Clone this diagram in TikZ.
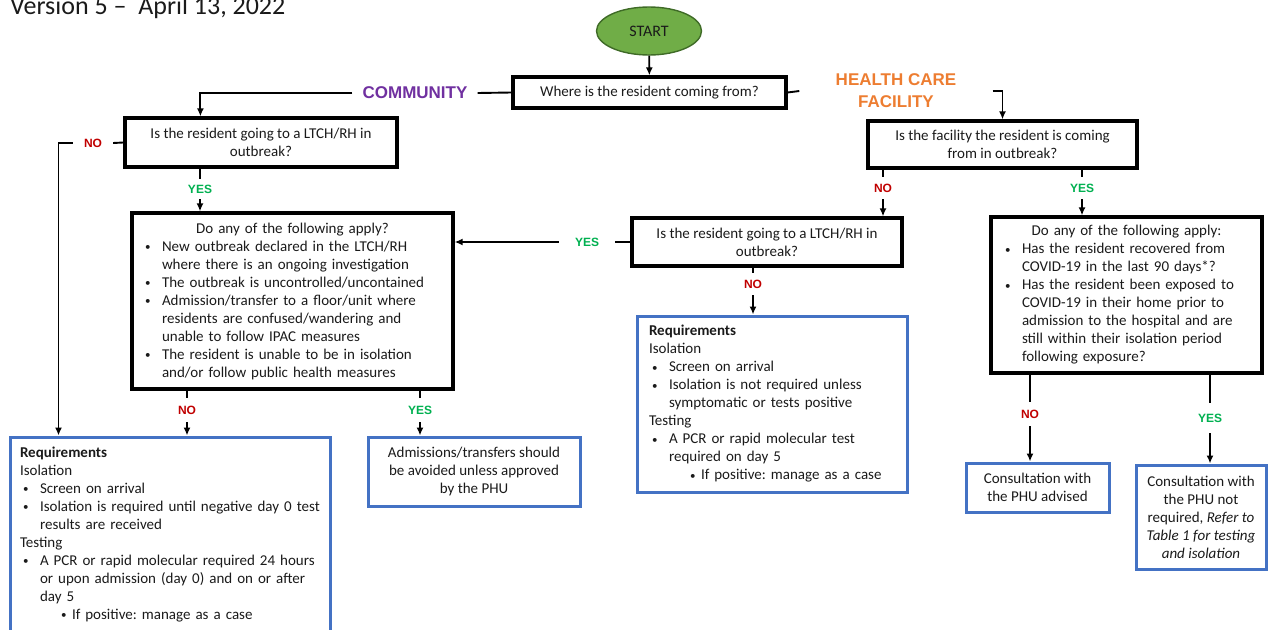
\documentclass[tikz,border=0pt]{standalone}
\usepackage{fontspec}
\setmainfont{Carlito}
\newfontfamily\labfont{Liberation Sans}
\usetikzlibrary{shapes.geometric,arrows.meta,calc}
\definecolor{bluebox}{HTML}{4472C4}
\definecolor{yesgreen}{HTML}{00B050}
\definecolor{nored}{HTML}{C00000}
\definecolor{commpurple}{HTML}{7030A0}
\definecolor{hcforange}{HTML}{ED7D31}
\definecolor{startfill}{HTML}{70AD47}
\definecolor{startdraw}{HTML}{3F6B27}
\definecolor{txt}{HTML}{1A1A1A}
\frenchspacing
\newcommand{\bodyfont}{\fontsize{15}{18}\selectfont}
\newcommand{\smallbul}{\raisebox{0.5pt}{\fontsize{11}{11}\selectfont\textbullet}}
\newcommand{\mybul}{\makebox[20pt][l]{\hspace{3pt}\smallbul}}
\newcommand{\myind}{\hspace*{20pt}}
\newcommand{\mysub}{\hspace*{41pt}\makebox[11pt][l]{\smallbul}}
\begin{document}
\begin{tikzpicture}[x=1pt,y=-1pt,
  qbox/.style={draw=black, line width=3.2pt, align=center, font=\bodyfont, text=txt, inner sep=0pt},
  bbox/.style={draw=bluebox, line width=3pt, font=\bodyfont, text=txt, inner sep=0pt},
  conn/.style={line width=1.9pt},
  arr/.style={conn, -{Latex[length=8pt,width=7pt]}},
  yeslab/.style={text=yesgreen, font=\labfont\bfseries\fontsize{12}{14}\selectfont, inner sep=0pt},
  nolab/.style={text=nored, font=\labfont\bfseries\fontsize{12}{14}\selectfont, inner sep=0pt},
  biglab/.style={font=\labfont\bfseries\fontsize{17}{22}\selectfont, inner sep=0pt, align=center}
]
\useasboundingbox (0,0) rectangle (1268,629);

% header
\node[anchor=base west, inner sep=0pt, text=txt, font=\fontsize{26}{30}\selectfont] (ver) at (10,14) {Version 5 \textendash\ \ April 13, 2022};

% start
\node[ellipse, fill=startfill, draw=startdraw, line width=1.4pt, minimum width=105pt, minimum height=48pt, inner sep=0pt, text=txt, font=\fontsize{16}{18}\selectfont] (start) at (649,31) {START};

% question boxes
\node[qbox, minimum width=273pt, minimum height=31pt] (where) at (649.5,92.5) {Where is the resident coming from?};
\node[qbox, minimum width=272pt, minimum height=49pt] (ltop) at (261,142.5) {Is the resident going to a LTCH/RH in\\outbreak?};
\node[qbox, minimum width=269pt, minimum height=47pt] (ftop) at (1002.5,144.5) {Is the facility the resident is coming\\from in outbreak?};
\node[qbox, minimum width=270pt, minimum height=48pt] (mq) at (767,242) {Is the resident going to a LTCH/RH in\\outbreak?};

\node[qbox, align=left, minimum width=321pt, minimum height=176pt, text width=301pt, inner xsep=10pt] (big) at (292.5,301) {%
\makebox[301pt]{Do any of the following apply?}\\
\mybul New outbreak declared in the LTCH/RH\\
\myind where there is an ongoing investigation\\
\mybul The outbreak is uncontrolled/uncontained\\
\mybul Admission/transfer to a floor/unit where\\
\myind residents are confused/wandering and\\
\myind unable to follow IPAC measures\\
\mybul The resident is unable to be in isolation\\
\myind and/or follow public health measures};

\node[qbox, align=left, minimum width=271pt, minimum height=156pt, text width=249pt, inner xsep=11pt] (rbig) at (1126.5,295) {%
\makebox[249pt]{Do any of the following apply:}\\
\mybul Has the resident recovered from\\
\myind COVID-19 in the last 90 days*?\\
\mybul Has the resident been exposed to\\
\myind COVID-19 in their home prior to\\
\myind admission to the hospital and are\\
\myind still within their isolation period\\
\myind following exposure?};

% outcome boxes
\node[bbox, align=left, minimum width=320pt, minimum height=195pt, text width=300pt, inner xsep=10pt] (lreq) at (170,534.5) {%
\textbf{Requirements}\\
Isolation\\
\mybul Screen on arrival\\
\mybul Isolation is required until negative day 0 test\\
\myind results are received\\
Testing\\
\mybul A PCR or rapid molecular required 24 hours\\
\myind or upon admission (day 0) and on or after\\
\myind day 5\\
\mysub If positive: manage as a case};

\node[bbox, align=left, minimum width=270pt, minimum height=176pt, text width=246pt, inner xsep=12pt] (mreq) at (772,404) {%
\textbf{Requirements}\\
Isolation\\
\mybul Screen on arrival\\
\mybul Isolation is not required unless\\
\myind symptomatic or tests positive\\
Testing\\
\mybul A PCR or rapid molecular test\\
\myind required on day 5\\
\mysub If positive: manage as a case};

\node[bbox, align=center, minimum width=212pt, minimum height=69pt] (adm) at (474,471.5) {Admissions/transfers should\\be avoided unless approved\\by the PHU};
\node[bbox, align=center, minimum width=143pt, minimum height=49pt] (cons1) at (1037.5,487.5) {Consultation with\\the PHU advised};
\node[bbox, align=center, minimum width=130pt, minimum height=104pt] (cons2) at (1201,517) {Consultation with\\the PHU not\\required, \textit{Refer to}\\\textit{Table 1 for testing}\\\textit{and isolation}};

% branch labels
\node[biglab, text=commpurple, minimum width=125pt] (comm) at (415,93) {COMMUNITY};
\node[biglab, text=hcforange, minimum width=193pt] (hcf) at (896,91) {HEALTH CARE\\FACILITY};

\node[nolab, minimum width=40pt, minimum height=14pt] (no1) at (93,143) {NO};
\node[yeslab, minimum width=30pt, minimum height=20pt] (yes1) at (200,189) {YES};
\node[nolab, minimum width=30pt, minimum height=24pt] (no2) at (187,410) {NO};
\node[yeslab, minimum width=30pt, minimum height=24pt] (yes2) at (420,410) {YES};
\node[nolab, minimum width=30pt, minimum height=22pt] (no3) at (883,188) {NO};
\node[yeslab, minimum width=30pt, minimum height=22pt] (yes3) at (1082,188) {YES};
\node[yeslab, minimum width=56pt, minimum height=14pt] (yes4) at (587,242) {YES};
\node[nolab, minimum width=30pt, minimum height=22pt] (no4) at (753,284) {NO};
\node[nolab, minimum width=30pt, minimum height=24pt] (no5) at (1030,414) {NO};
\node[yeslab, minimum width=30pt, minimum height=30pt] (yes5) at (1210,418) {YES};

% connectors
\draw[arr] (start) -- (where);
\draw[conn] (where.west) -- (comm.east);
\draw[arr] (comm.west) -| ($(ltop.north west)+(77,0)$);
\draw[conn] (where.east) -- (hcf.west);
\draw[arr] (hcf.east) -| (ftop.north);

\draw[conn] (ltop.west) -- (no1.east);
\draw[arr] (no1.west) -| ($(lreq.north west)+(50,0)$);
\draw[conn] (ltop.south -| yes1) -- (yes1.north);
\draw[arr] (yes1.south) -- (yes1.south |- big.north);

\draw[conn] (big.south -| no2) -- (no2.north);
\draw[arr] (no2.south) -- (no2.south |- lreq.north);
\draw[conn] (big.south -| yes2) -- (yes2.north);
\draw[arr] (yes2.south) -- (yes2.south |- adm.north);

\draw[conn] (ftop.south -| no3) -- (no3.north);
\draw[arr] (no3.south) -- (no3.south |- mq.north);
\draw[conn] (ftop.south -| yes3) -- (yes3.north);
\draw[arr] (yes3.south) -- (yes3.south |- rbig.north);

\draw[conn] (mq.west) -- (yes4.east);
\draw[arr] (yes4.west) -- (big.east |- yes4);
\draw[conn] (mq.south -| no4) -- (no4.north);
\draw[arr] (no4.south) -- (no4.south |- mreq.north);

\draw[conn] (rbig.south -| no5) -- (no5.north);
\draw[arr] (no5.south) -- (no5.south |- cons1.north);
\draw[conn] (rbig.south -| yes5) -- (yes5.north);
\draw[arr] (yes5.south) -- (yes5.south |- cons2.north);
\end{tikzpicture}
\end{document}
